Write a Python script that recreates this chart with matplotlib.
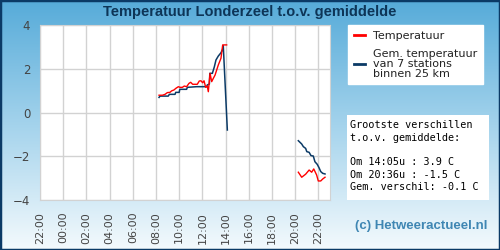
import matplotlib.pyplot as plt
import numpy as np
from matplotlib.colors import LinearSegmentedColormap
from matplotlib.patches import Rectangle
from matplotlib.lines import Line2D

# uren t.o.v. middernacht (22:00 vorige dag = -2), nan = onderbreking
uren_temp = [8.26, 8.55, 8.78, 8.98, 9.2, 9.35, 9.55, 9.7, 9.93, 10.07, 10.27, 10.44,
             10.64, 10.84, 10.99, 11.16, 11.36, 11.56, 11.73, 11.88, 12.02, 12.14,
             12.28, 12.42, 12.51, 12.66, 12.8, 12.94, 13.09, 13.23, 13.37, 13.52,
             13.6, 13.75, 14.09, np.nan,
             20.27, 20.56, 20.9, 21.2, 21.42, 21.6, 21.85, 21.99, 22.2, 22.37, 22.57]
temp = [0.79, 0.79, 0.83, 0.91, 0.92, 0.99, 1.03, 1.1, 1.18, 1.15, 1.15, 1.21,
        1.18, 1.33, 1.38, 1.29, 1.29, 1.29, 1.44, 1.45, 1.36, 1.45,
        1.15, 1.21, 0.95, 1.79, 1.41, 1.56, 1.71, 1.94, 2.17, 2.37,
        2.48, 3.09, 3.09, np.nan,
        -2.73, -2.96, -2.82, -2.63, -2.73, -2.58, -2.86, -3.13, -3.13, -3.04, -2.96]

uren_gem = [8.26, 8.35, 8.63, 9.06, 9.15, 9.64, 9.7, 10.0, 10.05, 10.64, 10.7, 11.5,
            12.37, 12.42, 12.6, 12.64, 12.86, 13.03, 13.17, 13.37, 13.6, 13.75,
            13.8, 14.15, np.nan,
            20.27, 20.56, 20.7, 20.9, 21.0, 21.2, 21.36, 21.56, 21.7, 21.9, 22.05,
            22.2, 22.37, 22.57]
gem = [0.69, 0.75, 0.75, 0.75, 0.83, 0.83, 0.92, 0.92, 1.06, 1.06, 1.15, 1.18,
       1.18, 1.26, 1.3, 1.79, 1.79, 2.09, 2.4, 2.58, 2.73, 2.89,
       3.05, -0.8, np.nan,
       -1.29, -1.44, -1.56, -1.64, -1.79, -1.82, -1.97, -1.99, -2.25, -2.37, -2.52,
       -2.7, -2.78, -2.81]

tick_pos = list(range(-2, 23, 2))
tick_labels = ['22:00', '00:00', '02:00', '04:00', '06:00', '08:00', '10:00',
               '12:00', '14:00', '16:00', '18:00', '20:00', '22:00']

info = ["Grootste verschillen", "t.o.v. gemiddelde:", "",
        "Om 14:05u : 3.9 C", "Om 20:36u : -1.5 C", "Gem. verschil: -0.1 C"]

rood = '#ff0000'
navy = '#0b3a66'

fig = plt.figure(figsize=(5, 2.5), dpi=100)

# achtergrond verloop
bg = fig.add_axes([0, 0, 1, 1], zorder=-5)
grad = np.linspace(0, 1, 256).reshape(-1, 1)
cmap = LinearSegmentedColormap.from_list('bg', ['#56abd9', '#a4d3ec', '#f4fafd'])
bg.imshow(grad, aspect='auto', cmap=cmap, extent=[0, 1, 0, 1])
bg.axis('off')
fig.patches.append(Rectangle((0, 0), 1, 1, transform=fig.transFigure, fill=False,
                             edgecolor=navy, lw=2.5))

fig.text(0.5, 0.953, "Temperatuur Londerzeel t.o.v. gemiddelde", ha='center', va='center',
         fontsize=10.5, fontweight='bold', color='#0d3557', family='Liberation Sans')

ax = fig.add_axes([0.08, 0.2, 0.58, 0.7])
ax.set_facecolor('white')
ax.plot(uren_gem, gem, color=navy, lw=1.1)
ax.plot(uren_temp, temp, color=rood, lw=1.0)
ax.set_xlim(-2, 23)
ax.set_ylim(-4, 4)
ax.set_yticks([-4, -2, 0, 2, 4])
ax.set_xticks(tick_pos)
ax.set_xticklabels(tick_labels, rotation=90)
ax.grid(color='#d2d2d2', lw=1)
ax.set_axisbelow(True)
for s in ax.spines.values():
    s.set_color('#d2d2d2')
ax.tick_params(length=0, labelcolor='#444444')
ax.tick_params(axis='y', pad=7, labelsize=8.5)
ax.tick_params(axis='x', pad=8.5, labelsize=8)

# legenda
handles = [Line2D([], [], color=rood, lw=2), Line2D([], [], color=navy, lw=2)]
leg = fig.legend(handles, ['Temperatuur', 'Gem. temperatuur\nvan 7 stations\nbinnen 25 km'],
                 loc='upper left', bbox_to_anchor=(0.696, 0.9), fontsize=8,
                 handlelength=1.0, handletextpad=0.75, labelspacing=0.75,
                 fancybox=False, framealpha=1, edgecolor='white', borderpad=0.5,
                 borderaxespad=0)
for t in leg.get_texts():
    t.set_color('#222222')
    t.set_linespacing(1.0)

# info vak
fig.patches.append(Rectangle((0.694, 0.2), 0.284, 0.34, transform=fig.transFigure,
                             facecolor='white', edgecolor='none'))
fig.text(0.7, 0.518, "\n".join(info), ha='left', va='top', family='DejaVu Sans Mono',
         fontsize=7.3, color='black', linespacing=1.29)

fig.text(0.975, 0.095, "(c) Hetweeractueel.nl", ha='right', va='center', fontsize=9.5,
         fontweight='bold', color='#3f86b3', family='Liberation Sans')

fig.savefig('out.png', dpi=100)
